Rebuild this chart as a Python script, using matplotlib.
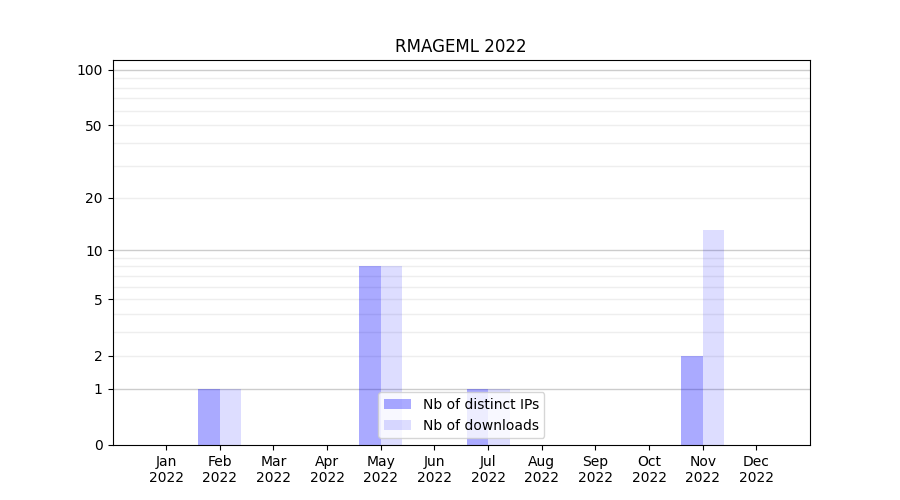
import numpy as np
import matplotlib
matplotlib.use("Agg")
import matplotlib.pyplot as plt

months = ["Jan\n2022", "Feb\n2022", "Mar\n2022", "Apr\n2022", "May\n2022", "Jun\n2022",
          "Jul\n2022", "Aug\n2022", "Sep\n2022", "Oct\n2022", "Nov\n2022", "Dec\n2022"]
ips = [0, 1, 0, 0, 8, 0, 1, 0, 0, 0, 2, 0]
downloads = [0, 1, 0, 0, 8, 0, 1, 0, 0, 0, 13, 0]
yticks = [0, 1, 2, 5, 10, 20, 50, 100]

fig, ax = plt.subplots(figsize=(9, 5), dpi=100)

def fwd(x):
    return np.log10(1 + np.asarray(x))

def inv(y):
    return 10 ** np.asarray(y) - 1

ax.set_yscale('function', functions=(fwd, inv))

x = np.arange(len(months))
w = 0.4
ax.bar(x + 0.2 - w, ips, width=w, color='blue', alpha=0.333, label='Nb of distinct IPs', zorder=2)
ax.bar(x + 0.2, downloads, width=w, color='blue', alpha=0.133, label='Nb of downloads', zorder=2)

for v in [1, 10, 100]:
    ax.axhline(v, color='#cccccc', lw=1, zorder=1)
for v in list(range(2, 10)) + list(range(20, 100, 10)):
    ax.axhline(v, color='#eeeeee', lw=1, zorder=1)

ax.set_xticks(x)
ax.set_xticklabels(months)
ax.set_yticks(yticks)
ax.set_yticklabels([str(t) for t in yticks])
ax.minorticks_off()
ax.set_xlim(-1, 12)
ax.set_ylim(0, 113)
ax.set_title("RMAGEML 2022")
ax.legend(loc='lower center')

fig.savefig("out.png", dpi=100)
